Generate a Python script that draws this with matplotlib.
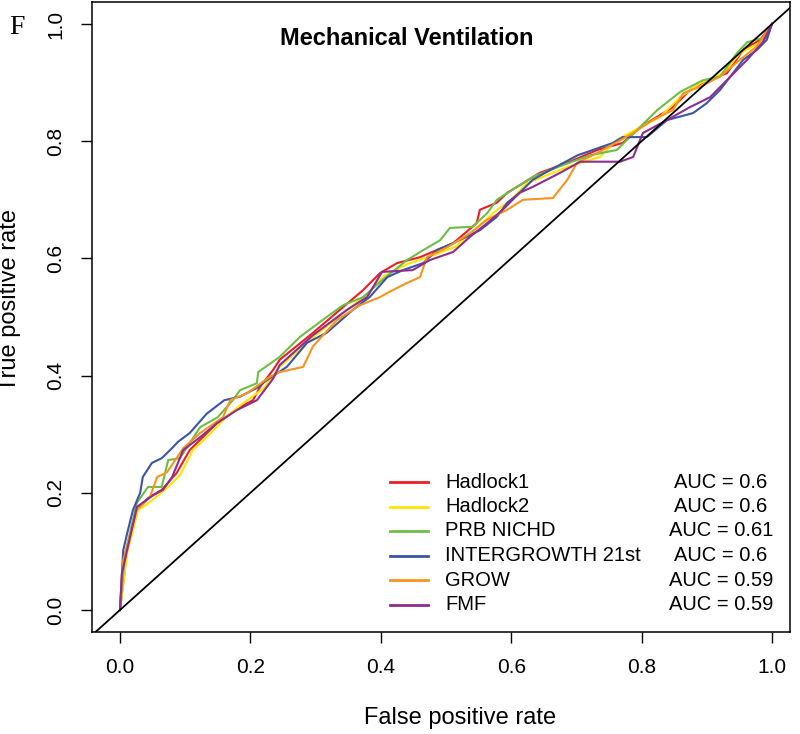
import matplotlib
matplotlib.use('Agg')
import matplotlib.pyplot as plt

plt.rcParams['font.family'] = ['Liberation Sans', 'DejaVu Sans']

# ROC curves (fpr, tpr)
hadlock1_fpr = [0, .011, .026, .043, .064, .087, .107, .127, .149, .184, .204, .215, .235, .245, .296, .337,
                .373, .399, .425, .46, .511, .547, .552, .578, .594, .609, .644, .686, .732, .771, .798, .848,
                .874, .9, .931, .956, .982, 1]
hadlock1_tpr = [0, .102, .171, .191, .205, .234, .273, .295, .319, .346, .358, .381, .41, .427, .473, .512,
                .546, .575, .592, .602, .626, .66, .683, .695, .712, .722, .746, .763, .785, .797, .824, .858,
                .887, .904, .916, .956, .973, 1]

hadlock2_fpr = [0, .011, .028, .046, .072, .092, .112, .133, .169, .195, .22, .245, .296, .34, .38, .405,
                .44, .48, .515, .55, .575, .6, .624, .686, .736, .762, .798, .828, .859, .89, .925, .951, .982, 1]
hadlock2_tpr = [0, .097, .171, .184, .208, .23, .273, .295, .336, .358, .378, .415, .465, .505, .54, .57,
                .59, .605, .62, .655, .68, .7, .728, .756, .773, .802, .824, .841, .875, .899, .916, .95, .969, 1]

prb_fpr = [0, .008, .026, .043, .064, .074, .092, .123, .15, .173, .184, .21, .212, .245, .276, .317, .342,
           .373, .399, .44, .465, .491, .506, .541, .563, .578, .633, .679, .721, .762, .793, .824, .859,
           .894, .92, .946, .962, .992, 1]
prb_tpr = [0, .097, .183, .21, .21, .256, .259, .312, .329, .358, .375, .387, .406, .432, .466, .5, .52,
           .534, .56, .597, .614, .631, .652, .654, .677, .7, .739, .759, .776, .785, .819, .853, .884,
           .904, .91, .95, .969, .978, 1]

ig21_fpr = [0, .005, .011, .02, .031, .035, .049, .064, .077, .089, .107, .133, .16, .184, .21, .225, .256,
            .287, .317, .357, .383, .41, .434, .465, .486, .511, .552, .578, .594, .613, .633, .66, .702,
            .756, .771, .808, .839, .879, .9, .92, .94, .956, .977, .992, 1]
ig21_tpr = [0, .102, .131, .171, .2, .227, .251, .259, .273, .287, .302, .335, .358, .364, .379, .392, .415,
            .456, .473, .512, .534, .568, .58, .592, .614, .626, .648, .671, .695, .712, .734, .751, .776,
            .797, .807, .807, .836, .848, .865, .887, .916, .939, .956, .973, 1]

grow_fpr = [0, .005, .026, .046, .057, .072, .097, .123, .158, .169, .195, .23, .245, .281, .296, .333,
            .368, .399, .41, .44, .46, .471, .502, .537, .563, .594, .618, .664, .686, .701, .736, .787,
            .817, .848, .864, .89, .92, .951, .977, 1]
grow_tpr = [0, .085, .171, .193, .227, .235, .276, .302, .329, .358, .37, .398, .406, .415, .45, .495,
            .52, .534, .541, .558, .568, .602, .619, .643, .666, .683, .7, .703, .734, .763, .782, .814,
            .836, .853, .882, .893, .91, .939, .962, 1]

fmf_fpr = [0, .003, .026, .051, .066, .08, .097, .123, .149, .179, .21, .235, .245, .296, .348, .379, .402,
           .449, .475, .511, .537, .563, .587, .613, .633, .675, .706, .767, .787, .802, .839, .874, .905,
           .936, .962, .986, 1]
fmf_tpr = [0, .063, .176, .196, .205, .227, .273, .295, .319, .341, .358, .395, .418, .469, .512, .534, .577,
           .58, .597, .611, .637, .66, .683, .712, .722, .746, .765, .765, .773, .814, .836, .858, .875,
           .91, .939, .969, 1]

names = ['Hadlock1', 'Hadlock2', 'PRB NICHD', 'INTERGROWTH 21st', 'GROW', 'FMF']
aucs = ['0.6', '0.6', '0.61', '0.6', '0.59', '0.59']
colors = ['#EE1C25', '#FFE600', '#6CBE45', '#3A55A5', '#F7941D', '#8E2C90']
curves = [(hadlock1_fpr, hadlock1_tpr), (hadlock2_fpr, hadlock2_tpr), (prb_fpr, prb_tpr),
          (ig21_fpr, ig21_tpr), (grow_fpr, grow_tpr), (fmf_fpr, fmf_tpr)]

fig = plt.figure(figsize=(8, 7.34), dpi=100)
ax = fig.add_axes([92 / 800, 102 / 734, 698 / 800, 630 / 734])

for (x, y), c in zip(curves, colors):
    ax.plot(x, y, color=c, lw=1.5)
# диагональ
ax.axline((0, 0), (1, 1), color='black', lw=1.3)

ax.set_xlim(-0.0429, 1.0276)
ax.set_ylim(-0.0375, 1.0375)
ax.set_xticks([0, 0.2, 0.4, 0.6, 0.8, 1.0])
ax.set_yticks([0, 0.2, 0.4, 0.6, 0.8, 1.0])
ax.set_xticklabels(['0.0', '0.2', '0.4', '0.6', '0.8', '1.0'])
ax.set_yticklabels(['0.0', '0.2', '0.4', '0.6', '0.8', '1.0'], rotation=90, va='center')
ax.tick_params(direction='out', length=8, width=1, labelsize=15, pad=11)
for s in ax.spines.values():
    s.set_linewidth(1.1)

# title inside the plot
ax.text(0.44, 0.976, 'Mechanical Ventilation', fontsize=17, fontweight='bold', ha='center', va='center')

# legend drawn by hand
for i, (n, a, c) in enumerate(zip(names, aucs, colors)):
    yy = (632 - (482 + 24.5 * i)) / 630
    ax.plot([0.427, 0.481], [yy, yy], color=c, lw=2, transform=ax.transAxes)
    ax.text(0.506, yy, n, fontsize=14.5, va='center', ha='left', transform=ax.transAxes)
    ax.text(0.901, yy, 'AUC = ' + a, fontsize=14.5, va='center', ha='center', transform=ax.transAxes)

fig.text(460 / 800, 1 - 718 / 734, 'False positive rate', fontsize=17, ha='center', va='center')
fig.text(10 / 800, 1 - 300 / 734, 'True positive rate', fontsize=17, ha='center', va='center', rotation=90)
fig.text(17 / 800, 1 - 27 / 734, 'F', fontsize=20, ha='center', va='center', family='Liberation Serif')

fig.savefig('out.png', dpi=100)
